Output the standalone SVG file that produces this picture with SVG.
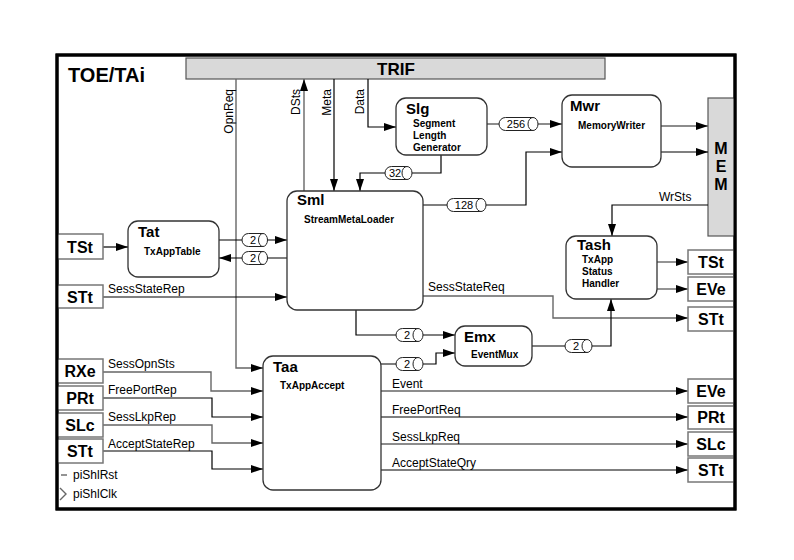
<svg xmlns="http://www.w3.org/2000/svg" width="794" height="560" viewBox="0 0 794 560">
  <defs>
    <marker id="arr" markerUnits="userSpaceOnUse" markerWidth="12" markerHeight="8" refX="12" refY="4" orient="auto">
      <path d="M0,0 L12,4 L0,8 Z" fill="#000"/>
    </marker>
    <style>
      .frame { fill: #fff; stroke: #000; stroke-width: 3; }
      .bar { fill: #d9d9d9; stroke: #555; stroke-width: 1.2; }
      .blk { fill: #fff; stroke: #333; stroke-width: 1.3; }
      .port { fill: #fff; stroke: #777; stroke-width: 1.5; }
      .w { fill: none; stroke: #000; stroke-width: 1.2; }
      .g { fill: none; stroke: #666; stroke-width: 1.4; }
      .pill { fill: #fff; stroke: #222; stroke-width: 1; }
      text { font-family: "Liberation Sans", Arial, sans-serif; fill: #000; }
      .title { font-size: 20px; font-weight: bold; }
      .bt { font-size: 15px; font-weight: bold; }
      .bs { font-size: 10px; font-weight: bold; }
      .pt { font-size: 16px; font-weight: bold; text-anchor: middle; }
      .lb { font-size: 12px; }
      .pn { font-size: 11px; text-anchor: middle; }
    </style>
  </defs>

  <!-- outer block frame -->
  <rect class="frame" x="57" y="55" width="678" height="454"/>
  <text class="title" x="68" y="82">TOE/TAi</text>

  <!-- TRIF interface bar -->
  <g id="trif">
    <rect class="bar" x="186" y="58" width="419" height="21"/>
    <text x="396" y="75" font-size="17" font-weight="bold" text-anchor="middle">TRIF</text>
  </g>

  <!-- MEM interface bar -->
  <g id="mem">
    <rect class="bar" x="708" y="98" width="27" height="138"/>
    <text x="721" y="154" font-size="16" font-weight="bold" text-anchor="middle">M</text>
    <text x="721" y="172" font-size="16" font-weight="bold" text-anchor="middle">E</text>
    <text x="721" y="190" font-size="16" font-weight="bold" text-anchor="middle">M</text>
  </g>

  <!-- connectors -->
  <g id="connectors">
    <path class="g" d="M236,79 V368 H263" marker-end="url(#arr)"/>
    <path class="g" d="M304,191 V79" marker-end="url(#arr)"/>
    <path class="w" d="M334,79 V191" marker-end="url(#arr)"/>
    <path class="w" d="M368,79 V127 H396" marker-end="url(#arr)"/>
    <path class="w" d="M441,155 V173 H360 V191" marker-end="url(#arr)"/>
    <path class="g" d="M487,124 H562" marker-end="url(#arr)"/>
    <path class="w" d="M423,205 H526 V152 H562" marker-end="url(#arr)"/>
    <path class="g" d="M661,126 H708" marker-end="url(#arr)"/>
    <path class="w" d="M661,152 H708" marker-end="url(#arr)"/>
    <path class="w" d="M708,205 H612 V236" marker-end="url(#arr)"/>
    <path class="w" d="M103,247 H128" marker-end="url(#arr)"/>
    <path class="w" d="M219,240 H287" marker-end="url(#arr)"/>
    <path class="w" d="M287,258 H219" marker-end="url(#arr)"/>
    <path class="w" d="M103,297 H287" marker-end="url(#arr)"/>
    <path class="g" d="M423,296 H553 V318 H688" marker-end="url(#arr)"/>
    <path class="w" d="M356,310 V335 H455" marker-end="url(#arr)"/>
    <path class="w" d="M381,364 H436 V353 H455" marker-end="url(#arr)"/>
    <path class="w" d="M532,346 H611 V299" marker-end="url(#arr)"/>
    <path class="g" d="M657,262 H688" marker-end="url(#arr)"/>
    <path class="g" d="M657,289 H688" marker-end="url(#arr)"/>
    <path class="g" d="M103,372 H211 V391 H263" marker-end="url(#arr)"/>
    <path class="w" d="M103,398 H212 V417 H263" marker-end="url(#arr)"/>
    <path class="g" d="M103,425 H212 V443 H263" marker-end="url(#arr)"/>
    <path class="w" d="M103,451 H212 V469 H263" marker-end="url(#arr)"/>
    <path class="g" d="M381,391 H688" marker-end="url(#arr)"/>
    <path class="w" d="M381,417 H688" marker-end="url(#arr)"/>
    <path class="g" d="M381,444 H688" marker-end="url(#arr)"/>
    <path class="w" d="M381,470 H688" marker-end="url(#arr)"/>

    <!-- width tags on streams -->
    <g id="w-tat-sml"><path class="pill" d="M248.5,233.5 H263 V246.5 H248.5 A6.5,6.5 0 0 1 248.5,233.5 Z"/><ellipse class="pill" cx="263" cy="240" rx="4.5" ry="6.5"/><text class="pn" x="253" y="244">2</text></g>
    <g id="w-sml-tat"><path class="pill" d="M248.5,251.5 H263 V264.5 H248.5 A6.5,6.5 0 0 1 248.5,251.5 Z"/><ellipse class="pill" cx="263" cy="258" rx="4.5" ry="6.5"/><text class="pn" x="253" y="262">2</text></g>
    <g id="w-slg-mwr"><path class="pill" d="M505.5,117.5 H533 V130.5 H505.5 A6.5,6.5 0 0 1 505.5,117.5 Z"/><ellipse class="pill" cx="533" cy="124" rx="5" ry="6.5"/><text class="pn" x="516" y="128">256</text></g>
    <g id="w-slg-sml"><path class="pill" d="M391.5,166.5 H407 V179.5 H391.5 A6.5,6.5 0 0 1 391.5,166.5 Z"/><ellipse class="pill" cx="407" cy="173" rx="5" ry="6.5"/><text class="pn" x="395" y="177">32</text></g>
    <g id="w-sml-mwr"><path class="pill" d="M453.5,198.5 H481 V211.5 H453.5 A6.5,6.5 0 0 1 453.5,198.5 Z"/><ellipse class="pill" cx="481" cy="205" rx="5" ry="6.5"/><text class="pn" x="464" y="209">128</text></g>
    <g id="w-sml-emx"><path class="pill" d="M402.5,328.5 H418 V341.5 H402.5 A6.5,6.5 0 0 1 402.5,328.5 Z"/><ellipse class="pill" cx="418" cy="335" rx="5" ry="6.5"/><text class="pn" x="407" y="339">2</text></g>
    <g id="w-taa-emx"><path class="pill" d="M402.5,357.5 H418 V370.5 H402.5 A6.5,6.5 0 0 1 402.5,357.5 Z"/><ellipse class="pill" cx="418" cy="364" rx="5" ry="6.5"/><text class="pn" x="407" y="368">2</text></g>
    <g id="w-emx-tash"><path class="pill" d="M571.5,339.5 H587 V352.5 H571.5 A6.5,6.5 0 0 1 571.5,339.5 Z"/><ellipse class="pill" cx="587" cy="346" rx="5" ry="6.5"/><text class="pn" x="576" y="350">2</text></g>

    <!-- signal names -->
    <text class="lb" transform="translate(233,89) rotate(-90)" text-anchor="end">OpnReq</text>
    <text class="lb" transform="translate(300,89) rotate(-90)" text-anchor="end">DSts</text>
    <text class="lb" transform="translate(331,89) rotate(-90)" text-anchor="end">Meta</text>
    <text class="lb" transform="translate(364,89) rotate(-90)" text-anchor="end">Data</text>
    <text class="lb" x="659" y="201">WrSts</text>
    <text class="lb" x="108" y="293">SessStateRep</text>
    <text class="lb" x="428" y="291">SessStateReq</text>
    <text class="lb" x="108" y="368">SessOpnSts</text>
    <text class="lb" x="108" y="394">FreePortRep</text>
    <text class="lb" x="108" y="421">SessLkpRep</text>
    <text class="lb" x="108" y="448">AcceptStateRep</text>
    <text class="lb" x="392" y="388">Event</text>
    <text class="lb" x="392" y="414">FreePortReq</text>
    <text class="lb" x="392" y="441">SessLkpReq</text>
    <text class="lb" x="392" y="467">AcceptStateQry</text>

    <!-- reset and clock pins -->
    <path class="g" d="M61,475 H67"/>
    <path class="g" d="M60,488 L66,494 L60,500"/>
    <text class="lb" x="73" y="479">piShlRst</text>
    <text class="lb" x="73" y="498">piShlClk</text>
  </g>

  <!-- processing blocks -->
  <g id="slg">
    <rect class="blk" x="396" y="98" width="91" height="57" rx="10"/>
    <text class="bt" x="406" y="114">Slg</text>
    <text class="bs" x="413" y="127">Segment</text>
    <text class="bs" x="413" y="139">Length</text>
    <text class="bs" x="413" y="151">Generator</text>
  </g>
  <g id="mwr">
    <rect class="blk" x="562" y="95" width="99" height="72" rx="10"/>
    <text class="bt" x="570" y="111">Mwr</text>
    <text class="bs" x="578" y="129">MemoryWriter</text>
  </g>
  <g id="sml">
    <rect class="blk" x="287" y="191" width="136" height="119" rx="10"/>
    <text class="bt" x="297" y="205">Sml</text>
    <text class="bs" x="304" y="223">StreamMetaLoader</text>
  </g>
  <g id="tat">
    <rect class="blk" x="128" y="221" width="91" height="56" rx="10"/>
    <text class="bt" x="138" y="237">Tat</text>
    <text class="bs" x="144" y="255">TxAppTable</text>
  </g>
  <g id="tash">
    <rect class="blk" x="566" y="236" width="91" height="63" rx="10"/>
    <text class="bt" x="577" y="250">Tash</text>
    <text class="bs" x="582" y="263">TxApp</text>
    <text class="bs" x="582" y="275">Status</text>
    <text class="bs" x="582" y="287">Handler</text>
  </g>
  <g id="emx">
    <rect class="blk" x="455" y="326" width="77" height="40" rx="10"/>
    <text class="bt" x="464" y="342">Emx</text>
    <text class="bs" x="471" y="358">EventMux</text>
  </g>
  <g id="taa">
    <rect class="blk" x="263" y="356" width="118" height="134" rx="10"/>
    <text class="bt" x="273" y="372">Taa</text>
    <text class="bs" x="280" y="389">TxAppAccept</text>
  </g>

  <!-- left-side ports -->
  <g id="port-tst-in"><rect class="port" x="57" y="234" width="46" height="25"/><text class="pt" x="80" y="253">TSt</text></g>
  <g id="port-stt-in1"><rect class="port" x="57" y="285" width="46" height="23"/><text class="pt" x="80" y="303">STt</text></g>
  <g id="port-rxe"><rect class="port" x="57" y="359" width="46" height="24"/><text class="pt" x="80" y="377">RXe</text></g>
  <g id="port-prt-in"><rect class="port" x="57" y="386" width="46" height="24"/><text class="pt" x="80" y="404">PRt</text></g>
  <g id="port-slc-in"><rect class="port" x="57" y="413" width="46" height="24"/><text class="pt" x="80" y="431">SLc</text></g>
  <g id="port-stt-in2"><rect class="port" x="57" y="439" width="46" height="24"/><text class="pt" x="80" y="457">STt</text></g>

  <!-- right-side ports -->
  <g id="port-tst-out"><rect class="port" x="688" y="250" width="46" height="24"/><text class="pt" x="711" y="268">TSt</text></g>
  <g id="port-eve-out1"><rect class="port" x="688" y="277" width="46" height="24"/><text class="pt" x="711" y="295">EVe</text></g>
  <g id="port-stt-out1"><rect class="port" x="688" y="307" width="46" height="24"/><text class="pt" x="711" y="325">STt</text></g>
  <g id="port-eve-out2"><rect class="port" x="688" y="379" width="46" height="24"/><text class="pt" x="711" y="397">EVe</text></g>
  <g id="port-prt-out"><rect class="port" x="688" y="406" width="46" height="23"/><text class="pt" x="711" y="423">PRt</text></g>
  <g id="port-slc-out"><rect class="port" x="688" y="432" width="46" height="24"/><text class="pt" x="711" y="450">SLc</text></g>
  <g id="port-stt-out2"><rect class="port" x="688" y="458" width="46" height="24"/><text class="pt" x="711" y="476">STt</text></g>

  <!-- frame border drawn on top of edge ports -->
  <rect x="57" y="55" width="678" height="454" fill="none" stroke="#000" stroke-width="3"/>
</svg>
